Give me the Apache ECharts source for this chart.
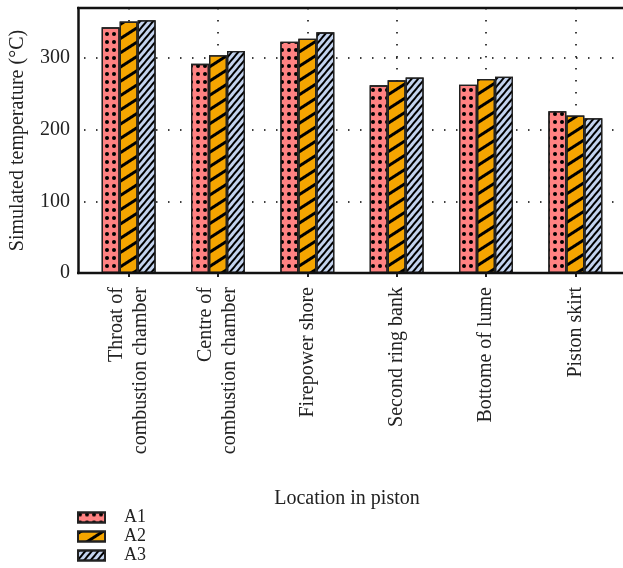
<!DOCTYPE html>
<html>
<head>
<meta charset="utf-8">
<script src="https://cdn.jsdelivr.net/npm/echarts@6/dist/echarts.min.js"></script>
<style>
  html, body { margin: 0; padding: 0; background: #fff; }
  #chart { width: 623px; height: 568px; }
</style>
</head>
<body>
<div id="chart"></div>
<script>
// Piston locations (x categories)
const categories = [
  'Throat of\ncombustion chamber',
  'Centre of\ncombustion chamber',
  'Firepower shore',
  'Second ring bank',
  'Bottome of lume',
  'Piston skirt'
];

// Simulated temperature (°C) per case
const seriesNames = ['A1', 'A2', 'A3'];
const valuesA1 = [343, 292, 323, 262, 263, 226];
const valuesA2 = [351, 304, 327, 269, 271, 220];
const valuesA3 = [353, 310, 336, 273, 274, 216];

const yTicks = [0, 100, 200, 300];

const FONT = '"Liberation Serif", "DejaVu Serif", serif';
const FS = 20;
const INK = '#222';

const chart = echarts.init(document.getElementById('chart'), null, { renderer: 'canvas' });

const GRID_TOP = 8;
const GRID_BOTTOM = 295;   // axis baseline at y = 273
const GRID_LEFT = 84;
const GRID_RIGHT = 3;

const fills = ['#ff8282', '#f5a500', '#c3d3ee'];
const decals = [
  { symbol: 'circle', symbolSize: 1, dashArrayX: [3.3, 2.7], dashArrayY: [3.3, 3.5], color: '#000', rotation: 0 },
  { symbol: 'rect', symbolSize: 1, dashArrayX: [1, 0], dashArrayY: [2.2, 9], color: '#000', rotation: -Math.PI / 5.5 },
  { symbol: 'rect', symbolSize: 1, dashArrayX: [1, 0], dashArrayY: [1.6, 2.2], color: '#000', rotation: -Math.PI / 3.6 }
];
const seriesData = [valuesA1, valuesA2, valuesA3];

const series = seriesNames.map((name, i) => ({
  name: name,
  type: 'bar',
  data: seriesData[i],
  barWidth: 18,
  barGap: '0%',
  itemStyle: {
    color: fills[i],
    borderColor: INK,
    borderWidth: 1.3,
    decal: decals[i]
  }
}));

chart.setOption({
  animation: false,
  aria: { enabled: false },
  grid: {
    left: GRID_LEFT, right: GRID_RIGHT, top: GRID_TOP, bottom: GRID_BOTTOM,
    containLabel: false,
    outerBoundsMode: 'none'
  },
  legend: {
    orient: 'vertical',
    left: 77,
    top: 508,
    height: 60,
    padding: 0,
    itemWidth: 27,
    itemHeight: 10,
    itemGap: 0,
    icon: 'rect',
    textStyle: { fontFamily: FONT, fontSize: 18, lineHeight: 19, color: INK, padding: [0, 0, 0, 14] },
    data: seriesNames
  },
  xAxis: {
    type: 'category',
    data: categories,
    name: 'Location in piston',
    nameLocation: 'middle',
    nameGap: 216,
    nameTextStyle: { fontFamily: FONT, fontSize: FS, color: INK, padding: [0, 10, 0, 0] },
    axisLine: { show: false },
    axisTick: { show: true, alignWithLabel: true, length: 4, lineStyle: { color: INK, width: 2 } },
    axisLabel: {
      rotate: 90,
      margin: 14,
      fontFamily: FONT,
      fontSize: FS,
      lineHeight: 24,
      color: INK,
      interval: 0
    },
    splitLine: {
      show: true,
      alignWithLabel: true,
      lineStyle: { color: '#000', width: 1.5, type: [1.5, 10.5] }
    }
  },
  yAxis: {
    type: 'value',
    min: 0,
    max: 370,
    interval: 100,
    offset: 6,
    name: 'Simulated temperature (°C)',
    nameLocation: 'middle',
    nameGap: 50,
    nameTextStyle: { fontFamily: FONT, fontSize: FS, color: INK },
    axisLine: { show: true, lineStyle: { color: '#111', width: 2.5 } },
    axisTick: { show: false },
    axisLabel: {
      fontFamily: FONT,
      fontSize: FS,
      color: INK,
      margin: 8,
      showMaxLabel: false,
      formatter: v => (yTicks.indexOf(v) >= 0 ? String(v) : '')
    },
    splitLine: {
      show: true,
      lineStyle: { color: '#000', width: 1.5, type: [1.5, 10.5] }
    }
  },
  series: series
});

// Frame lines along the top and the baseline of the plot
const yTop = chart.convertToPixel({ yAxisIndex: 0 }, 370);
const yBase = chart.convertToPixel({ yAxisIndex: 0 }, 0);
chart.setOption({
  graphic: [
    { type: 'line', z: 50, shape: { x1: 77, y1: yTop, x2: 623, y2: yTop }, style: { stroke: '#111', lineWidth: 2.5 } },
    { type: 'line', z: 50, shape: { x1: 77, y1: yBase, x2: 623, y2: yBase }, style: { stroke: '#111', lineWidth: 2.5 } }
  ]
});
</script>
</body>
</html>
